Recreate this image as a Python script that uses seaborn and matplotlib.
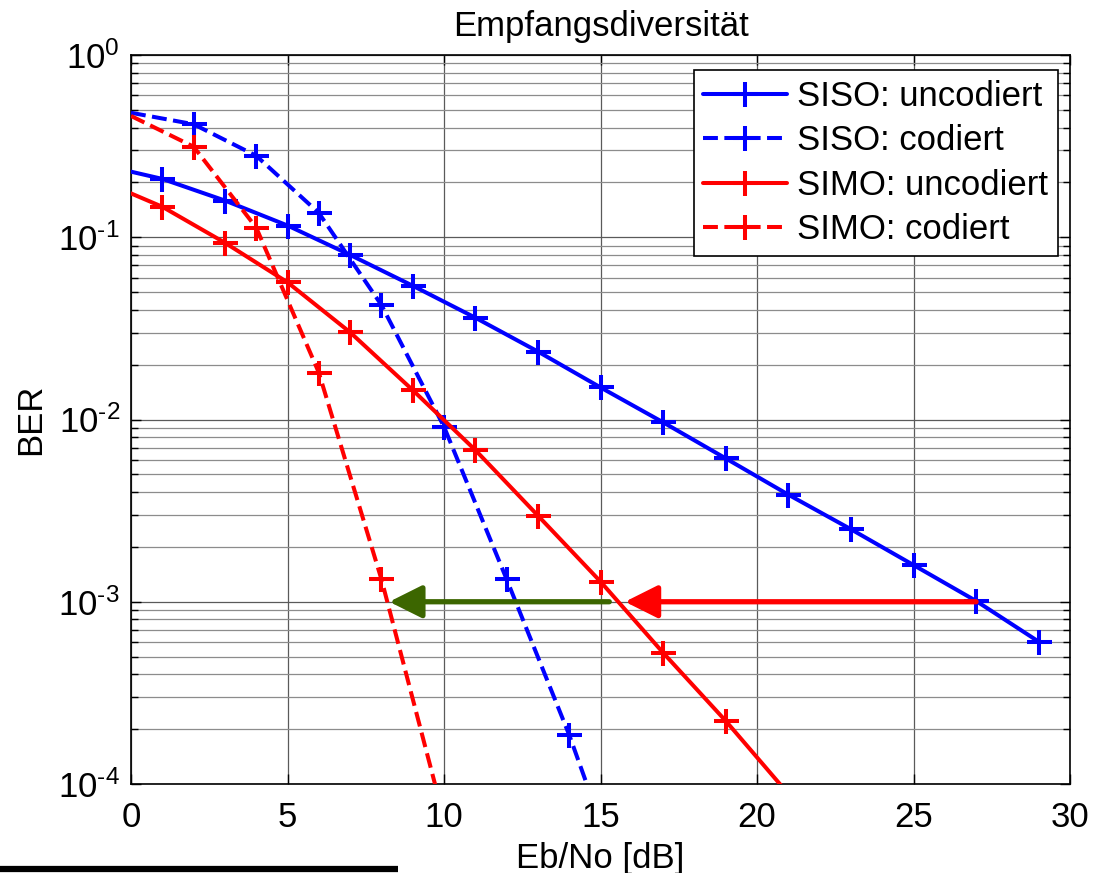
import numpy as np
import pandas as pd
import matplotlib
matplotlib.use("Agg")
import matplotlib.pyplot as plt
import seaborn as sns
from matplotlib.ticker import LogLocator, NullFormatter, FixedLocator, FuncFormatter
from matplotlib.lines import Line2D

# ---------------- data ----------------
title = "Empfangsdiversität"
x_label = "Eb/No [dB]"
y_label = "BER"
series_labels = ["SISO: uncodiert", "SISO: codiert", "SIMO: uncodiert", "SIMO: codiert"]

siso_unc_x = [0, 1, 3, 5, 7, 9, 11, 13, 15, 17, 19, 21, 23, 25, 27, 29]
siso_unc_ber = [0.229, 0.209, 0.159, 0.116, 0.080, 0.0542, 0.0362, 0.0236, 0.0150,
                0.00965, 0.00612, 0.00387, 0.00250, 0.00159, 0.00101, 0.000604]

siso_cod_x = [0, 2, 4, 6, 8, 10, 12, 14, 16]
siso_cod_ber = [0.482, 0.417, 0.280, 0.136, 0.0425, 0.00913, 0.00133, 0.000186, 0.0000204]

simo_unc_x = [0, 1, 3, 5, 7, 9, 11, 13, 15, 17, 19, 21]
simo_unc_ber = [0.174, 0.147, 0.0933, 0.0566, 0.0301, 0.0145, 0.00680, 0.00297,
                0.00129, 0.000525, 0.000222, 0.0000883]

simo_cod_x = [0, 2, 4, 6, 8, 10]
simo_cod_ber = [0.463, 0.314, 0.113, 0.0181, 0.00133, 0.0000647]

arrow_ber = 1e-3
red_arrow_x = [27.0, 15.78]    # start, tip
green_arrow_x = [15.28, 8.25]  # start, tip

x_ticks = [0, 5, 10, 15, 20, 25, 30]

# ---------------- style ----------------
sns.set_style("ticks")
plt.rcParams["font.family"] = ["Liberation Sans", "DejaVu Sans"]
plt.rcParams["mathtext.fontset"] = "custom"
plt.rcParams["mathtext.rm"] = "Liberation Sans"
plt.rcParams["mathtext.it"] = "Liberation Sans:italic"
plt.rcParams["mathtext.bf"] = "Liberation Sans:bold"
plt.rcParams["axes.unicode_minus"] = False
for k in ["text.color", "axes.labelcolor", "xtick.color", "ytick.color", "axes.edgecolor"]:
    plt.rcParams[k] = "black"

FS = 25

fig = plt.figure(figsize=(11.03, 8.73), dpi=100)
ax = fig.add_axes([131 / 1103, 1 - 784 / 873, 939 / 1103, 729 / 873])

BLUE = "#0000ff"
RED = "#ff0000"
GREEN = "#3c6600"
LW = 2.9

series = [
    (siso_unc_x, siso_unc_ber, BLUE, "-", slice(1, None)),
    (siso_cod_x, siso_cod_ber, BLUE, "--", slice(1, -1)),
    (simo_unc_x, simo_unc_ber, RED, "-", slice(1, -1)),
    (simo_cod_x, simo_cod_ber, RED, "--", slice(1, -1)),
]

for (xs, ys, col, ls, me), lab in zip(series, series_labels):
    df = pd.DataFrame({"x": xs, "ber": ys})
    kw = dict(linestyle=ls)
    if ls == "--":
        kw["dashes"] = (3.3, 1.7)
    sns.lineplot(data=df, x="x", y="ber", ax=ax, color=col, lw=LW,
                 marker="+", markersize=18, markeredgewidth=LW,
                 markeredgecolor=col, markevery=me, label=lab,
                 estimator=None, sort=False, zorder=3, **kw)

ax.set_yscale("log")
ax.set_xlim(0, 30)
ax.set_ylim(1e-4, 1)
ax.xaxis.set_major_locator(FixedLocator(x_ticks))
ax.yaxis.set_major_locator(LogLocator(base=10, numticks=10))
ax.yaxis.set_minor_locator(LogLocator(base=10, subs=np.arange(2, 10), numticks=20))
ax.yaxis.set_minor_formatter(NullFormatter())


def log_fmt(v, pos):
    e = int(round(np.log10(v)))
    return r"$10^{\text{%d}}$" % e


ax.yaxis.set_major_formatter(FuncFormatter(log_fmt))

ax.grid(True, which="major", color="#5a5a5a", lw=0.9, zorder=0)
ax.grid(True, which="minor", axis="y", color="#8c8c8c", lw=0.9, zorder=0)
ax.set_axisbelow(True)

ax.tick_params(which="both", direction="in", top=True, right=True, colors="black",
               labelsize=FS)
ax.tick_params(which="major", length=7, width=1)
ax.tick_params(which="minor", length=5, width=1)
ax.tick_params(axis="x", pad=12)
ax.tick_params(axis="y", pad=8)
for sp in ax.spines.values():
    sp.set_color("black")
    sp.set_linewidth(1.2)

ax.set_xlabel(x_label, fontsize=FS, labelpad=6)
ax.set_ylabel(y_label, fontsize=FS, labelpad=8)
ax.set_title(title, fontsize=FS, pad=14)

# arrows
ax.annotate("", xy=(red_arrow_x[1], arrow_ber), xytext=(red_arrow_x[0], arrow_ber),
            arrowprops=dict(arrowstyle="-|>", color=RED, lw=3.8, mutation_scale=50,
                            shrinkA=0, shrinkB=0), zorder=5)
ax.annotate("", xy=(green_arrow_x[1], arrow_ber), xytext=(green_arrow_x[0], arrow_ber),
            arrowprops=dict(arrowstyle="-|>", color=GREEN, lw=3.8, mutation_scale=50,
                            shrinkA=0, shrinkB=0), zorder=5)

leg = ax.legend(loc="upper right", bbox_to_anchor=(0.987, 0.979), borderaxespad=0,
                fontsize=FS, handlelength=2.4, handletextpad=0.3, labelspacing=0.33,
                borderpad=0.28, fancybox=False, framealpha=1, edgecolor="black")
leg.get_frame().set_linewidth(1.2)

# black bar at bottom-left of the figure
fig.add_artist(Line2D([0, 398 / 1103], [1 - 869 / 873, 1 - 869 / 873],
                      transform=fig.transFigure, color="black", lw=4.5,
                      solid_capstyle="butt"))

fig.savefig("out.png", dpi=100)
